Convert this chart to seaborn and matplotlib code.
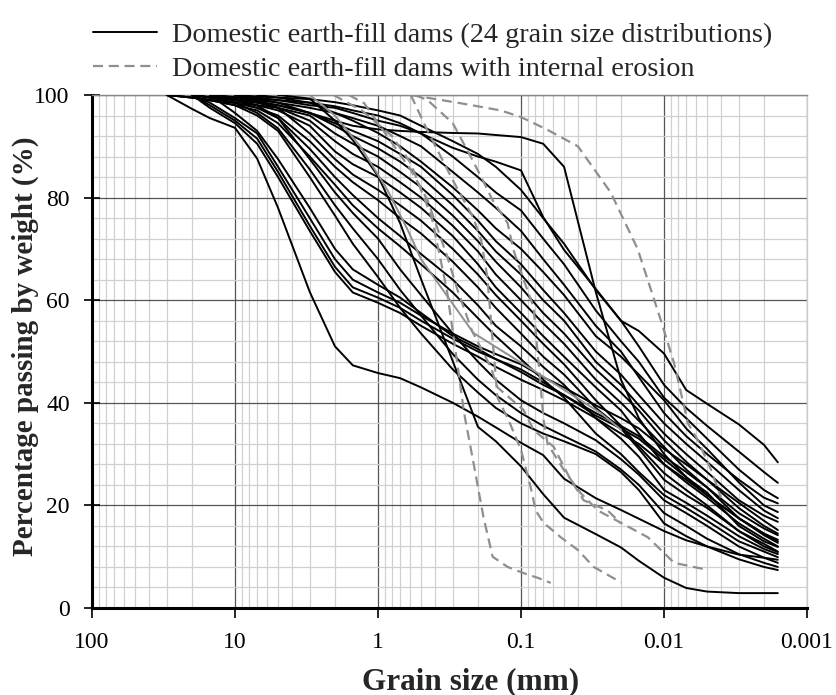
import numpy as np
import pandas as pd
import matplotlib
matplotlib.use("Agg")
import matplotlib.pyplot as plt
import seaborn as sns
from matplotlib.lines import Line2D
from matplotlib.ticker import LogLocator, MultipleLocator, NullFormatter

sizes = [30, 20, 15, 10, 7, 5, 3, 2, 1.5, 1, 0.7, 0.5, 0.3, 0.2, 0.15, 0.1,
         0.07, 0.05, 0.03, 0.02, 0.015, 0.01, 0.007, 0.005, 0.003, 0.002, 0.0016]
N = None

# percentage passing for each of the 24 dams (None = curve not started yet)
dams = [
    [100, 97.3, 95.5, 93.6, 87.6, 78, 61.6, 51, 47.3, 45.8, 44.8, 43.0, 40, 37.3, 35.2, 32.2,
     29.8, 25.2, 21.4, 19.1, 17.4, 15.0, 13.2, 12.0, 10.4, 9.8, 9.4],
    [N, N, N, N, N, 100, 99.3, 95, 91.2, 84.2, 75, 64.1, 48.1, 35.3, 32.5, 27.6,
     22.2, 17.6, 14.4, 11.8, 9.2, 5.9, 3.9, 3.2, 2.9, 2.9, 2.9],
    [N, N, 100, 99.5, 98.8, 98, 96.5, 95, 94, 93.3, 93, 92.8, 92.6, 92.5, 92.2, 91.8,
     90.5, 86, 61.6, 44.5, 37, 30, 25.5, 22, 17.5, 14.2, 12.7],
    [N, N, N, 100, 99.5, 99, 98, 97.5, 96.5, 95, 94, 92.5, 89.7, 88, 87, 85.3,
     76.2, 69.8, 62.2, 56, 54, 49.6, 42.5, 39.8, 35.8, 31.8, 28.4],
    [N, 100, 98.5, 95.5, 92.5, 86, 76, 68, 64, 61.5, 59.5, 57, 53.5, 51, 49.5, 47.5,
     45, 43, 39.5, 37, 35, 31, 28, 25, 20.5, 17, 15.2],
    [N, 100, 98, 95, 91.5, 85, 74.5, 66.5, 62.5, 60.5, 58.5, 56, 52.5, 50, 48.5, 46,
     43.5, 41.5, 38, 35.5, 33.5, 29.5, 26.5, 23.5, 18.5, 15.5, 14.2],
    [N, 100, 97.5, 94.5, 90.5, 84, 73.5, 65.5, 61.5, 59.5, 57.5, 55, 51.5, 49, 47, 44.5,
     42.5, 40.5, 37, 34, 32, 28, 25, 22, 17.5, 14.5, 13.3],
    [N, N, 100, 96.5, 93, 87.5, 78, 70, 66, 63, 60.5, 57.5, 53, 50.5, 48.5, 46.5,
     44, 41.5, 37.5, 35, 33, 29, 25.5, 22.5, 16, 13, 11.9],
    [N, N, N, 100, 99.7, 99.5, 99.2, 98.6, 98, 97, 96, 94, 91, 88.5, 86, 81.5,
     76, 71, 62, 56, 51, 43.5, 39, 35.5, 30.5, 26.5, 24.4],
    [N, N, 100, 99.6, 99.3, 99, 98.5, 97.8, 97, 96, 94.5, 92.5, 88, 84, 81, 77.5,
     72, 67, 58, 52, 48, 41, 37, 33, 27, 23, 21.4],
    [N, 100, 99.6, 99.3, 99, 98.5, 97.5, 96.5, 95.5, 94, 92, 90, 85, 81, 78, 73.5,
     68, 63, 55, 50, 45, 38, 33.5, 30, 25, 21.5, 20.4],
    [N, N, N, N, 100, 99.5, 98.5, 96.5, 95, 92.6, 90, 87, 82, 77.5, 74, 70,
     65.5, 61, 53, 49, 45.5, 40.5, 35, 31, 24.5, 20, 18.7],
    [N, 100, 99.5, 99, 98.5, 98, 96.5, 94.5, 93, 91, 88.5, 86, 80.5, 75.5, 71.5, 67,
     62, 57.5, 50, 45.5, 41.5, 36, 32, 28.5, 23, 19, 17.5],
    [N, N, N, 100, 99.3, 98.5, 96.5, 94, 92, 89.6, 87, 84, 78.5, 73.5, 69.5, 65,
     60, 56, 48, 43.5, 39.5, 34, 30, 26.5, 21, 18, 16.8],
    [100, 99.5, 99, 98.5, 98, 97.5, 96, 92.5, 90.5, 88, 85, 82, 76.5, 71.5, 67.5, 62.5,
     57.5, 53.5, 46.5, 42, 38.5, 32.7, 28.5, 25, 19.5, 16, 14.5],
    [N, N, 100, 99.5, 98.5, 97.5, 95, 91, 88.5, 86, 83, 80, 74.5, 69.5, 65, 60,
     55.5, 51.5, 44.5, 40, 36.5, 31.4, 27, 23.5, 17.5, 14.5, 13],
    [N, 100, 99.5, 99, 98, 97, 94, 89, 86.5, 84, 81, 78, 72.5, 67, 62.5, 57.5,
     53, 49, 43, 38.5, 34, 28, 24.5, 21.5, 16.5, 13.5, 12],
    [N, N, N, 100, 99, 97.5, 92.5, 87.5, 84.5, 81.5, 78.5, 75.5, 70, 65, 61, 56,
     51.5, 47.5, 40.5, 35.5, 31.5, 26.3, 23, 20, 15, 12.5, 11],
    [100, 99.5, 99, 98.5, 97.5, 96, 91, 86, 83, 79.5, 76, 73, 67.5, 62.5, 58.5, 53.5,
     49, 45.5, 39, 35, 31, 25, 22, 19.5, 15, 12, 10.9],
    [N, 100, 99.5, 98.5, 97.5, 95.5, 89.5, 84, 80.5, 76, 72.5, 69, 64, 59, 55, 51,
     47, 43.5, 37, 33, 29.5, 23, 20.5, 18, 14, 11.5, 10.5],
    [N, 99.5, 99, 98, 97, 94.5, 88, 82.5, 78.5, 74, 70.5, 67, 61.5, 56.5, 53, 48.5,
     44.5, 41, 34, 30, 26.5, 22, 19.5, 17, 13, 11, 9.9],
    [N, N, 100, 99, 98, 95.5, 87.5, 81, 77, 72, 66, 61, 53.5, 48, 44.5, 40.5,
     38, 36, 32.7, 29, 26, 21, 18.5, 16, 12, 9.8, 8.8],
    [N, 100, 99.5, 98.5, 96.5, 93.5, 85.5, 78.5, 74, 68, 62, 57, 49.5, 44.5, 41.5, 38,
     35.5, 33.5, 30.5, 27, 24, 18.5, 16, 13.5, 10.5, 8.8, 8],
    [100, 99.5, 99, 98, 96, 93, 84, 76.5, 71, 64.5, 58.5, 53.5, 46.5, 42, 39, 36,
     34, 32.5, 30, 26.5, 23, 16.5, 14, 12, 9.5, 8, 7.4],
]

# dams with internal erosion: (grain size mm, percentage passing)
erosion_sizes = [
    [2.05, 1.3, 0.8, 0.59, 0.42, 0.33, 0.28, 0.25, 0.215, 0.183, 0.158, 0.124, 0.096, 0.075, 0.062],
    [0.59, 0.45, 0.30, 0.215, 0.19, 0.172, 0.160, 0.146, 0.122, 0.1, 0.0857, 0.079, 0.0695,
     0.0528, 0.040, 0.031, 0.02],
    [0.55, 0.45, 0.3, 0.225, 0.185, 0.158, 0.124, 0.113, 0.096, 0.0817, 0.079, 0.0753, 0.0695,
     0.0652, 0.0504, 0.0383, 0.029, 0.02, 0.013, 0.0105, 0.0085, 0.0049],
    [1.6, 1.25, 0.59, 0.45, 0.327, 0.278, 0.22, 0.163, 0.146, 0.096, 0.0817, 0.059, 0.045,
     0.0365, 0.0248, 0.02],
    [0.59, 0.265, 0.139, 0.1, 0.0652, 0.040, 0.0236, 0.0153, 0.0105, 0.0085, 0.0068, 0.0058,
     0.0047, 0.0040],
]
erosion_pct = [
    [100, 97, 92, 86.7, 76, 62, 48, 38, 28.3, 17.7, 10, 8, 6.8, 5.8, 4.9],
    [100, 93, 83.4, 76, 71.7, 64.5, 54, 41, 36.6, 30.8, 23.6, 19, 16.6, 13.8, 11.3, 8, 5],
    [100, 99, 94.5, 88, 83.4, 79.5, 75, 69.8, 64, 58.7, 54, 47.7, 36.6, 32, 27, 22.4, 19,
     16.6, 13.8, 11.3, 8.8, 7.4],
    [100, 98.4, 85.4, 79.5, 68.4, 62, 54, 47, 43, 38.6, 34.7, 31.4, 25, 21, 19, 16.5],
    [100, 98.4, 97, 95.7, 93.2, 90, 81, 70, 56, 47.7, 36, 32.7, 27, 21.5],
]
# grey solid curve
grey_sizes = [3.0, 2.0, 1.33, 0.86, 0.62, 0.5, 0.215, 0.0766, 0.0277, 0.0199]
grey_pct = [100, 96, 90, 81.5, 73.7, 68, 53.6, 45.8, 38, 34.7]

# long tables for seaborn
rows = []
for i, curve in enumerate(dams):
    for s, p in zip(sizes, curve):
        if p is not None:
            rows.append({"size": s, "pct": p, "curve": i})
solid = pd.DataFrame(rows)

rows = []
for i, (ss, pp) in enumerate(zip(erosion_sizes, erosion_pct)):
    for s, p in zip(ss, pp):
        rows.append({"size": s, "pct": p, "curve": i})
erosion = pd.DataFrame(rows)
grey = pd.DataFrame({"size": grey_sizes, "pct": grey_pct, "curve": 0})

sns.set_theme(style="white")
plt.rcParams["font.family"] = ["Liberation Serif", "DejaVu Serif"]

fig = plt.figure(figsize=(8.37, 6.95), dpi=100)
ax = fig.add_axes([0.1099, 0.1252, 0.8543, 0.7381])

dash = (0, (4.5, 2.6))
sns.lineplot(data=solid, x="size", y="pct", units="curve", estimator=None, sort=False,
             color="black", lw=1.4, ax=ax, legend=False, zorder=3)
sns.lineplot(data=grey, x="size", y="pct", units="curve", estimator=None, sort=False,
             color="#8f8f8f", lw=1.4, ax=ax, legend=False, zorder=4)
sns.lineplot(data=erosion, x="size", y="pct", units="curve", estimator=None, sort=False,
             color="#8f8f8f", lw=1.6, linestyle=dash, ax=ax, legend=False, zorder=4)

ax.set_xscale("log")
ax.set_xlim(100, 0.001)
ax.set_ylim(0, 100)
ax.set_xticks([100, 10, 1, 0.1, 0.01, 0.001])
ax.set_xticklabels(["100", "10", "1", "0.1", "0.01", "0.001"])
ax.xaxis.set_minor_locator(LogLocator(base=10, subs=range(2, 10)))
ax.xaxis.set_minor_formatter(NullFormatter())
ax.set_yticks(range(0, 101, 20))
ax.yaxis.set_minor_locator(MultipleLocator(4))

ax.set_axisbelow(True)
ax.grid(which="major", color="#555555", lw=0.9)
ax.grid(which="minor", color="#d0d0d0", lw=0.9)

for side in ["left", "bottom"]:
    ax.spines[side].set_color("black")
    ax.spines[side].set_linewidth(2.2)
ax.spines["top"].set_color("#888888")
ax.spines["top"].set_linewidth(1.0)
ax.spines["right"].set_color("#cccccc")
ax.spines["right"].set_linewidth(1.0)

ax.tick_params(axis="x", which="major", direction="out", length=7, width=1.2,
               bottom=True, labelsize=17, pad=10, colors="black")
ax.tick_params(axis="y", which="major", direction="inout", length=12, width=1.2,
               left=True, labelsize=17, pad=10, colors="black")
ax.tick_params(which="minor", length=0)

ax.set_xlabel("Grain size (mm)", fontsize=22.5, fontweight="bold")
ax.set_ylabel("Percentage passing by weight (%)", fontsize=21, fontweight="bold")
ax.xaxis.set_label_coords(0.53, -0.115)
ax.yaxis.set_label_coords(-0.074, 0.51)

handles = [Line2D([], [], color="black", lw=1.4),
           Line2D([], [], color="#8f8f8f", lw=1.6, linestyle=dash)]
labels = ["Domestic earth-fill dams (24 grain size distributions)",
          "Domestic earth-fill dams with internal erosion"]
ax.legend(handles, labels, loc="lower left", bbox_to_anchor=(0.002, 1.025), frameon=False,
          fontsize=20.3, handlelength=2.27, handletextpad=0.5, labelspacing=0.3,
          borderaxespad=0.0, borderpad=0.0)

fig.savefig("out.png", dpi=100)
